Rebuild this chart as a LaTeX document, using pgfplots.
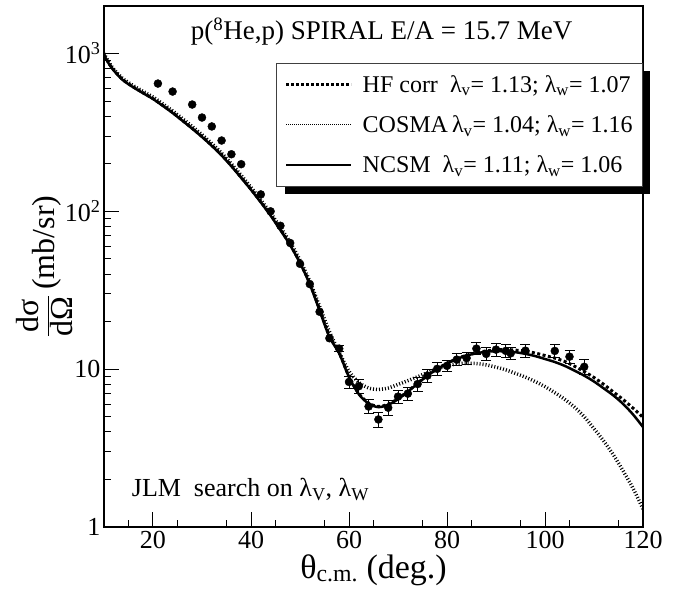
\documentclass[border=0pt]{standalone}
\usepackage{fontspec}
\setmainfont{Liberation Serif}
\usepackage{pgfplots}
\pgfplotsset{compat=1.18}
\begin{document}
\begin{tikzpicture}
\useasboundingbox (-104bp,-64bp) rectangle (579bp,527bp);
\begin{axis}[
 scale only axis, width=539bp, height=521bp,
 xmin=10, xmax=120, ymin=1, ymax=2000, ymode=log,
 axis line style={line width=1.4bp},
 xtick={20,40,...,120}, xticklabels={20,40,60,80,100,120},
 minor xtick={15,25,...,115},
 ytick={1,10,100,1000},
 yticklabels={1,10,10\textsuperscript{2},10\textsuperscript{3}},
 minor ytick={2,3,...,9,20,30,...,90,200,300,...,900},
 xtick pos=bottom, ytick pos=left, tick align=inside,
 major tick length=15bp, minor tick length=7.5bp,
 tick style={black, line width=1bp},
 tick label style={font=\fontsize{26bp}{30bp}\selectfont},
 xticklabel style={yshift=-1bp},
 xlabel={θ\textsubscript{c.m.} (deg.)},
 xlabel style={at={(axis description cs:0.5,-0.098)}, anchor=base, font=\fontsize{34bp}{38bp}\selectfont},
 ylabel={$\displaystyle\frac{\mbox{dσ}}{\mbox{dΩ}}$\,(mb/sr)},
 ylabel style={at={(axis description cs:-0.111,0.5)}, anchor=center, font=\fontsize{32bp}{36bp}\selectfont},
 legend style={name=leg, at={(rel axis cs:1,0.891)}, anchor=north east, draw=black!75, line width=0.8bp, fill=white,
   font=\fontsize{24bp}{28bp}\selectfont,
   nodes={inner sep=2bp},
   row sep=18bp, inner xsep=8bp, inner ysep=10bp,
   /tikz/every odd column/.append style={column sep=8bp}},
 legend cell align=left,
 legend image code/.code={\draw[#1] (0bp,0bp) -- (65bp,0bp);},
]
\addlegendimage{black, line width=3bp, dash pattern=on 3bp off 2bp}
\addlegendentry{HF corr\ \ λ\textsubscript{v}= 1.13; λ\textsubscript{w}= 1.07}
\addlegendimage{black, line width=1bp, dash pattern=on 0.8bp off 1.2bp}
\addlegendentry{COSMA\,λ\textsubscript{v}= 1.04; λ\textsubscript{w}= 1.16}
\addlegendimage{black, line width=2.5bp}
\addlegendentry{NCSM\ \ λ\textsubscript{v}= 1.11; λ\textsubscript{w}= 1.06}

% COSMA
\addplot[black, line width=3.5bp, dash pattern=on 1bp off 2bp, smooth, forget plot] coordinates {
(10,1000)(11,880)(12,795)(13,735)(14,687)(16,625)(18,575)(20,530)(22,480)(24,433)(26,387)(28,345)(30,306)(32,269)(34,234)(36,200)(38,169)(40,142)(42,118)(44,97.5)(46,79)(48,63.5)(50,49)(52,36)(54,25)(56,17.3)(58,12.8)(60,9.7)(62,8.25)(64,7.6)(66,7.45)(68,7.6)(70,8.0)(72,8.45)(74,8.95)(76,9.5)(78,10.05)(80,10.5)(82,10.8)(84,10.9)(86,10.85)(88,10.65)(90,10.3)(92,9.9)(94,9.4)(96,8.9)(98,8.35)(100,7.75)(102,7.1)(104,6.45)(106,5.75)(108,5.0)(110,4.2)(112,3.5)(114,2.85)(116,2.25)(118,1.75)(120,1.3)};
% HF corr
\addplot[black, line width=3bp, dash pattern=on 3bp off 2.5bp, smooth, forget plot] coordinates {
(10,985)(11,865)(12,785)(13,724)(14,676)(16,614)(18,563)(20,518)(22,469)(24,423)(26,377)(28,336)(30,298)(32,262)(34,228)(36,195)(38,164)(40,138)(42,115)(44,95)(46,77)(48,61.5)(50,47.5)(52,35)(54,24)(56,16.3)(58,12.7)(60,9.0)(62,7.0)(64,6.1)(66,5.8)(68,6.0)(70,6.5)(72,7.25)(74,8.15)(76,9.15)(78,10.05)(80,10.9)(82,11.65)(84,12.25)(86,12.7)(88,13.05)(90,13.25)(92,13.3)(94,13.2)(96,13.0)(98,12.65)(100,12.2)(102,11.75)(104,11.2)(106,10.45)(108,9.65)(110,8.85)(112,8.0)(114,7.15)(116,6.4)(118,5.65)(120,4.95)};
% NCSM
\addplot[black, line width=2.5bp, smooth, forget plot] coordinates {
(10,980)(11,860)(12,780)(13,720)(14,672)(16,610)(18,560)(20,515)(22,466)(24,420)(26,375)(28,334)(30,296)(32,260)(34,226)(36,193)(38,163)(40,137)(42,114)(44,94)(46,76)(48,61)(50,47)(52,34.5)(54,23.5)(56,16.0)(58,12.6)(60,8.9)(62,6.95)(64,6.05)(66,5.75)(68,5.95)(70,6.45)(72,7.2)(74,8.1)(76,9.1)(78,10.0)(80,10.85)(82,11.6)(84,12.2)(86,12.6)(88,12.9)(90,13.0)(92,12.95)(94,12.8)(96,12.5)(98,12.1)(100,11.6)(102,11.1)(104,10.5)(106,9.8)(108,9.1)(110,8.35)(112,7.55)(114,6.8)(116,6.0)(118,5.15)(120,4.3)};
% data, forward angles (errors hidden by the markers)
\addplot[black, only marks, mark=*, mark size=4bp, forget plot] coordinates {
(21,645) (24,574) (28,475) (30,393) (32,345) (34,281) (36,230) (38,199) (42,128) (44,100) (46,81) (48,63)
(50,46.5) (52,34.6) (54,23.1) (56,15.7)};
% data with visible error bars
\addplot[black, only marks, mark=*, mark size=4bp, forget plot,
  error bars/.cd, y dir=both, y explicit, error bar style={line width=1bp}, error mark options={rotate=90, line width=1bp, mark size=5bp}]
 coordinates {
(58,13.5)+-(0,0.6)
(60,8.3)+-(0,0.75) (62,7.8)+-(0,0.75) (64,5.8)+-(0,0.6) (66,4.8)+-(0,0.55) (68,5.7)+-(0,0.6)
(70,6.7)+-(0,0.65) (72,7.0)+-(0,0.7) (74,8.05)+-(0,0.8) (76,9.1)+-(0,0.85) (78,10.05)+-(0,0.9)
(80,10.5)+-(0,0.9) (82,11.5)+-(0,1.0) (84,11.75)+-(0,1.0) (86,13.5)+-(0,1.2) (88,12.5)+-(0,1.15)
(90,13.3)+-(0,1.2) (92,13.05)+-(0,1.2) (93,12.6)+-(0,1.15) (96,13.1)+-(0,1.2) (102,13.05)+-(0,1.25)
(105,12.0)+-(0,1.2) (108,10.35)+-(0,1.1)};

\node[anchor=base, font=\fontsize{27bp}{30bp}\selectfont] at (rel axis cs:0.515,0.935) {p(\textsuperscript{8}He,p) SPIRAL E/A = 15.7 MeV};
\node[anchor=base west, font=\fontsize{26bp}{30bp}\selectfont, inner sep=0pt] at (rel axis cs:0.0514,0.0576) {JLM\ \ search on λ\textsubscript{V}, λ\textsubscript{W}};
\end{axis}
\fill[black] ([yshift=-8bp]leg.north east) rectangle ([xshift=7bp,yshift=-7bp]leg.south east);
\fill[black] ([xshift=9bp,yshift=-7bp]leg.south west) rectangle ([xshift=7bp]leg.south east);
\end{tikzpicture}
\end{document}
